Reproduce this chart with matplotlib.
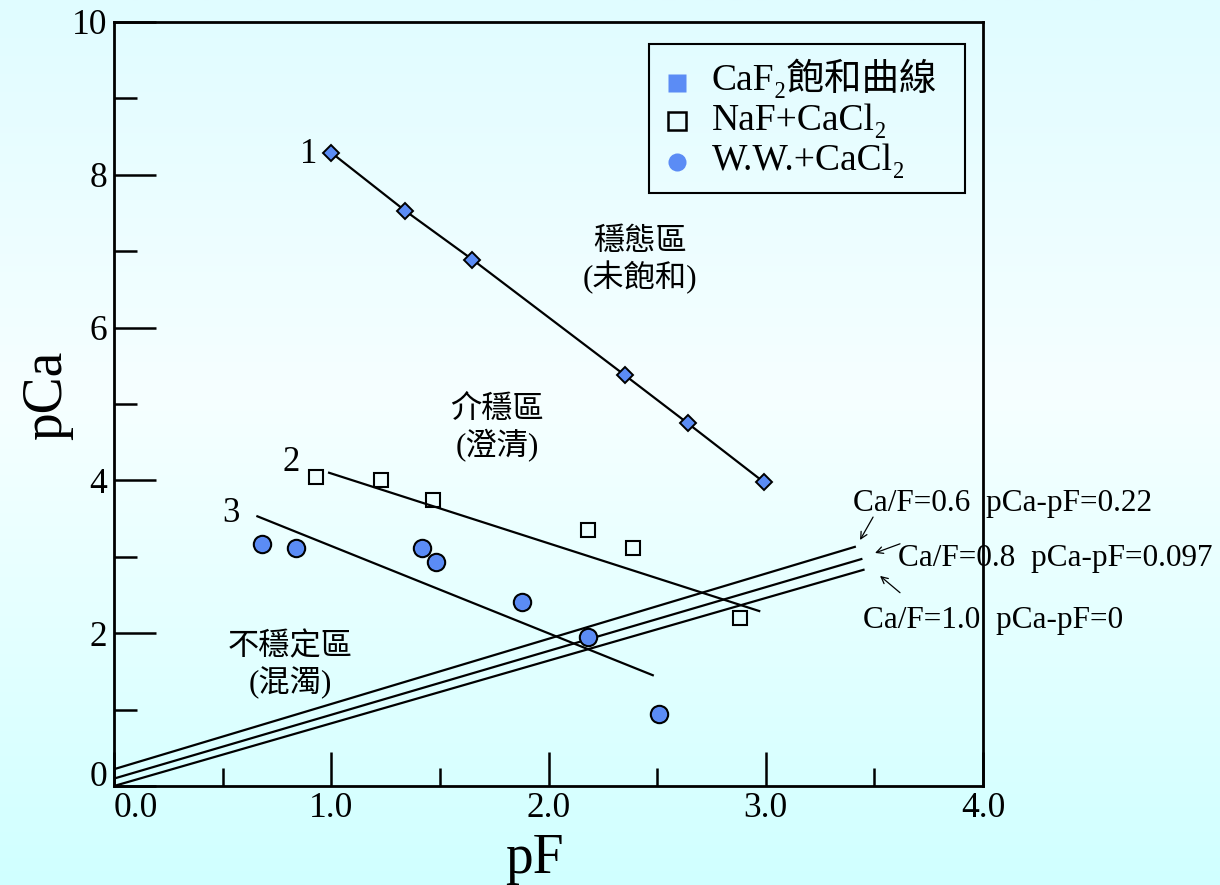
import numpy as np
import matplotlib
matplotlib.use("Agg")
import matplotlib.pyplot as plt
from matplotlib.patches import Rectangle

# ---------------- data ----------------
# 1: CaF2 saturation curve
sat_pF = [1.00, 1.34, 1.65, 2.35, 2.64, 2.99]
sat_pCa = [8.29, 7.53, 6.89, 5.38, 4.75, 3.98]

# 2: NaF + CaCl2 (open squares) with its trend line
naf_pF = [0.93, 1.23, 1.47, 2.18, 2.39, 2.88]
naf_pCa = [4.04, 4.01, 3.74, 3.35, 3.12, 2.20]
naf_fit_pF = [0.99, 2.97]
naf_fit_pCa = [4.10, 2.29]

# 3: W.W. + CaCl2 (filled circles) with its trend line
ww_pF = [0.68, 0.84, 1.42, 1.48, 1.88, 2.18, 2.51]
ww_pCa = [3.17, 3.12, 3.12, 2.93, 2.41, 1.95, 0.94]
ww_fit_pF = [0.66, 2.48]
ww_fit_pCa = [3.53, 1.45]

# constant Ca/F ratio lines (pCa - pF offset at pF = 0)
ratio_labels = ["Ca/F=0.6  pCa-pF=0.22", "Ca/F=0.8  pCa-pF=0.097", "Ca/F=1.0  pCa-pF=0"]
ratio_offsets = [0.22, 0.097, 0.0]
ratio_end_pF = [3.41, 3.44, 3.45]
ratio_end_pCa = [3.13, 2.97, 2.83]

x_ticks = [0, 1, 2, 3, 4]
x_tick_labels = ["0.0", "1.0", "2.0", "3.0", "4.0"]
x_minor = [0.5, 1.5, 2.5, 3.5]
y_ticks = [0, 2, 4, 6, 8, 10]
y_tick_labels = ["0", "2", "4", "6", "8", "10"]
y_minor = [1, 3, 5, 7, 9]

legend_labels = ["CaF\u2082飽和曲線", "NaF+CaCl\u2082", "W.W.+CaCl\u2082"]

# ---------------- style ----------------
plt.rcParams["font.family"] = ["Liberation Serif", "DejaVu Serif", "Noto Sans CJK TC"]
BLUE = "#5b8cf5"
LW = 1.6

fig = plt.figure(figsize=(12.2, 8.85), dpi=100)

# soft cyan background gradient
bg = fig.add_axes([0, 0, 1, 1], zorder=-5)
bg.set_axis_off()
t = np.linspace(0, 1, 300)
stops = [0.0, 0.45, 1.0]
cols = np.array([[224, 252, 255], [246, 255, 255], [208, 255, 255]]) / 255.0
grad = np.stack([np.interp(t, stops, cols[:, k]) for k in range(3)], axis=-1)
bg.imshow(grad[:, None, :], aspect="auto", extent=[0, 1, 0, 1])
bg.set_xlim(0, 1)
bg.set_ylim(0, 1)

ax = fig.add_axes([114 / 1220, 99 / 885, 869 / 1220, 764 / 885])
ax.set_facecolor("none")
ax.set_xlim(0, 4)
ax.set_ylim(0, 10)

for sp in ax.spines.values():
    sp.set_linewidth(2.0)

ax.set_xticks(x_ticks, x_tick_labels)
ax.set_xticks(x_minor, minor=True)
ax.set_yticks(y_ticks, y_tick_labels)
ax.set_yticks(y_minor, minor=True)
ax.tick_params(axis="x", which="major", direction="in", length=24.5, width=1.8,
               pad=4, labelsize=25.5)
ax.tick_params(axis="x", which="minor", direction="in", length=13, width=1.8)
ax.tick_params(axis="y", which="major", direction="in", length=30, width=1.8,
               pad=5, labelsize=25.5)
ax.tick_params(axis="y", which="minor", direction="in", length=16.5, width=1.8)
ax.xaxis.get_major_ticks()[0].label1.set_horizontalalignment("left")
ax.yaxis.get_major_ticks()[0].label1.set_verticalalignment("baseline")

# Ca/F ratio lines
for off, xe, ye in zip(ratio_offsets, ratio_end_pF, ratio_end_pCa):
    ax.plot([0, xe], [off, ye], color="black", lw=LW, zorder=2)

# trend lines
ax.plot(naf_fit_pF, naf_fit_pCa, color="black", lw=LW, zorder=2)
ax.plot(ww_fit_pF, ww_fit_pCa, color="black", lw=LW, zorder=2)

# saturation curve
ax.plot(sat_pF, sat_pCa, color="black", lw=LW, zorder=3)
ax.plot(sat_pF, sat_pCa, ls="none", marker="D", ms=8.5, mfc=BLUE, mec="black",
        mew=1.4, zorder=4)

# measured points
ax.plot(naf_pF, naf_pCa, ls="none", marker="s", ms=10.5, mfc="none", mec="black",
        mew=1.5, zorder=4)
ax.plot(ww_pF, ww_pCa, ls="none", marker="o", ms=12.5, mfc=BLUE, mec="black",
        mew=1.5, zorder=4)

# curve numbers
ax.text(0.898, 8.26, "1", fontsize=25, ha="center", va="center")
ax.text(0.815, 4.23, "2", fontsize=25, ha="center", va="center")
ax.text(0.539, 3.57, "3", fontsize=25, ha="center", va="center")

# region labels
region_fs = 22.5
ax.text(2.421, 7.12, "穩態區", fontsize=region_fs, ha="center", va="center")
ax.text(2.421, 6.66, "(未飽和)", fontsize=region_fs, ha="center", va="center")
ax.text(1.763, 4.92, "介穩區", fontsize=region_fs, ha="center", va="center")
ax.text(1.763, 4.46, "(澄清)", fontsize=region_fs, ha="center", va="center")
ax.text(0.81, 1.81, "不穩定區", fontsize=region_fs, ha="center", va="center")
ax.text(0.81, 1.35, "(混濁)", fontsize=region_fs, ha="center", va="center")

# ratio line labels with arrows
label_pos = [(3.402, 3.70), (3.609, 2.98), (3.448, 2.17)]
arrow_tail = [(3.494, 3.52), (3.618, 3.17), (3.618, 2.53)]
arrow_head = [(3.434, 3.22), (3.503, 3.05), (3.526, 2.75)]
for lab, (lx, ly) in zip(ratio_labels, label_pos):
    ax.text(lx, ly, lab, fontsize=22.5, ha="left", va="center", clip_on=False)
for tail, head in zip(arrow_tail, arrow_head):
    ax.annotate("", xy=head, xytext=tail, annotation_clip=False,
                arrowprops=dict(arrowstyle="->", lw=0.9, color="black",
                                shrinkA=0, shrinkB=0, mutation_scale=12))

# legend box
ax.add_patch(Rectangle((0.6157, 0.7762), 0.3636, 0.195, transform=ax.transAxes,
                       fill=False, ec="black", lw=1.5, clip_on=False, zorder=5))
mk_x = 0.6479
mk_y = [0.920, 0.870, 0.8168]
txt_y = [0.911, 0.8586, 0.8063]
ax.plot([mk_x], [mk_y[0]], transform=ax.transAxes, marker="s", ms=13.5,
        mfc=BLUE, mec="none", ls="none", clip_on=False, zorder=5)
ax.plot([mk_x], [mk_y[1]], transform=ax.transAxes, marker="s", ms=13,
        mfc="none", mec="black", mew=1.8, ls="none", clip_on=False, zorder=5)
ax.plot([mk_x], [mk_y[2]], transform=ax.transAxes, marker="o", ms=13,
        mfc=BLUE, mec="none", ls="none", clip_on=False, zorder=5)
for lab, ty in zip(legend_labels, txt_y):
    ax.text(0.688, ty, lab, transform=ax.transAxes, fontsize=27, ha="left",
            va="baseline", zorder=5)

# axis titles
fig.text(47 / 1220, 1 - 395 / 885, "pCa", fontsize=40, rotation=90,
         ha="center", va="center")
fig.text(534 / 1220, 1 - 873 / 885, "pF", fontsize=40, ha="center", va="baseline")

fig.savefig("out.png", dpi=100)
